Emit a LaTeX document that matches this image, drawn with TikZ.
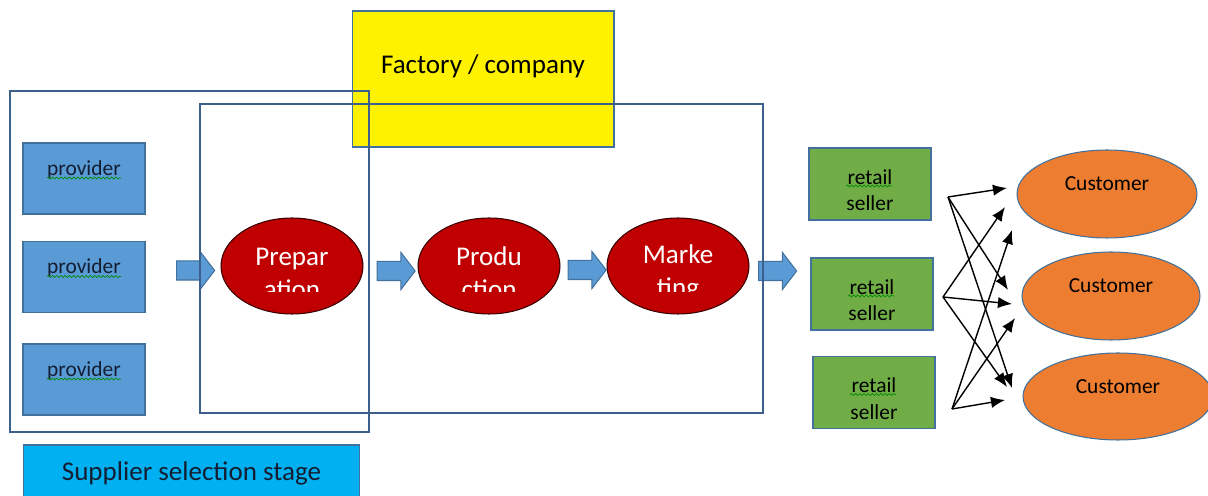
\documentclass[tikz,border=0pt]{standalone}
\usepackage{fontspec}
\setmainfont{Carlito}
\usetikzlibrary{shapes.geometric,shapes.arrows,arrows.meta,decorations.pathmorphing}

\definecolor{provblue}{RGB}{91,155,213}
\definecolor{edgeblue}{RGB}{65,113,156}
\definecolor{sellgreen}{RGB}{112,173,71}
\definecolor{custorange}{RGB}{237,125,49}
\definecolor{stagered}{RGB}{192,0,0}
\definecolor{stagecyan}{RGB}{0,176,240}
\definecolor{frameblue}{RGB}{60,95,140}
\definecolor{textnavy}{RGB}{20,30,50}

\begin{document}
\begin{tikzpicture}[x=0.02cm, y=-0.02cm,
    small/.style={font=\fontsize{12.2}{14.9}\selectfont},
    large/.style={font=\fontsize{15.4}{18.8}\selectfont},
    box node/.style={rectangle,draw=edgeblue,line width=0.6pt,inner sep=0pt,align=center,text=textnavy},
    provider node/.style={box node,small,fill=provblue,minimum width=2.44cm,minimum height=1.42cm},
    seller node/.style={box node,small,fill=sellgreen,minimum width=2.44cm,minimum height=1.44cm,text=black},
    customer node/.style={ellipse,draw=edgeblue,line width=0.6pt,small,fill=custorange,inner sep=0pt,align=center},
    stage node/.style={ellipse,draw=black!70!stagered,line width=0.6pt,fill=stagered,inner sep=0pt,minimum width=2.84cm,minimum height=1.92cm},
    stage text/.style={large,text=white,align=center,inner sep=0pt},
    block arrow/.style={single arrow,fill=provblue,draw=edgeblue,line width=0.6pt,inner xsep=0pt,inner ysep=0.18cm,
                        minimum height=0.76cm,single arrow head extend=0.18cm,single arrow tip angle=105},
    frame/.style={draw=frameblue,line width=0.8pt},
    link/.style={-{Latex[length=8pt,width=6.5pt]},line width=0.8pt},
    spell/.style={decorate,decoration={snake,amplitude=0.55pt,segment length=2.4pt},draw=green!55!black,line width=0.4pt}]

  \useasboundingbox (0,0) rectangle (1208,496);

  \node[box node,large,fill=yellow,text=black,minimum width=5.24cm,minimum height=2.72cm,text depth=0.6cm] (factory) at (483,79) {Factory / company};

  \node[provider node] (p1) at (84,178.5) {\rule{0pt}{11pt}provider\\~};
  \node[provider node] (p2) at (84,277) {\rule{0pt}{11pt}provider\\~};
  \node[provider node] (p3) at (84,379.5) {\rule{0pt}{11pt}provider\\~};

  \node[box node,large,fill=stagecyan,draw=edgeblue,minimum width=6.74cm,minimum height=1.12cm] (stage) at (191.5,473) {Supplier selection stage};

  \node[block arrow] (a1) at (192,270.5) {};
  \node[block arrow] (a2) at (392.5,271) {};
  \node[block arrow] (a3) at (583.5,270) {};
  \node[block arrow] (a4) at (774,271) {};

  \foreach \n/\x/\t in {prep/292/{Prepar\\ation}, prod/489/{Produ\\ction}, mark/678/{Marke\\ting}} {
    \node[stage node] (\n) at (\x,266) {};
    \begin{scope}
      \clip (\x-71,218) rectangle (\x+71,292);
      \node[stage text] at (\x,273) {\t};
    \end{scope}
  }

  \node[seller node] (s1) at (870,184) {\rule{0pt}{15.4pt}retail\\seller};
  \node[seller node] (s2) at (872,294) {\rule{0pt}{15.4pt}retail\\seller};
  \node[seller node] (s3) at (874,392.5) {\rule{0pt}{15.4pt}retail\\seller};

  \node[customer node,minimum width=3.6cm,minimum height=1.76cm] (c1) at (1107,194) {\rule{0pt}{11pt}Customer\\~};
  \node[customer node,minimum width=3.56cm,minimum height=1.76cm] (c2) at (1111,296) {\rule{0pt}{11pt}Customer\\~};
  \node[customer node,minimum width=3.8cm,minimum height=1.74cm] (c3) at (1118,396.5) {\rule{0pt}{11pt}Customer\\~};

  \foreach \n in {p1,p2,p3}
    \draw[spell] ([shift={(-37,-0.5)}]\n.center) -- ++(74,0);
  \foreach \n in {s1,s2,s3}
    \draw[spell] ([shift={(-24,2)}]\n.center) -- ++(46,0);

  \coordinate (o1) at (948,197);
  \coordinate (o2) at (943,297);
  \coordinate (o3) at (952,409);
  \coordinate (t11) at (1007,188);
  \coordinate (t12) at (1008,290);
  \coordinate (t13) at (1012,388);
  \coordinate (t21) at (1005,207);
  \coordinate (t22) at (1012,304);
  \coordinate (t23) at (1007,387);
  \coordinate (t31) at (1012,230);
  \coordinate (t32) at (1015,318);
  \coordinate (t33) at (1005,400);
  \foreach \i in {1,2,3}
    \foreach \j in {1,2,3}
      \draw[link] (o\i) -- (t\i\j);

  \draw[frame] (10,91) rectangle (369,432);
  \draw[frame] (200,104) rectangle (763,413);

\end{tikzpicture}
\end{document}
